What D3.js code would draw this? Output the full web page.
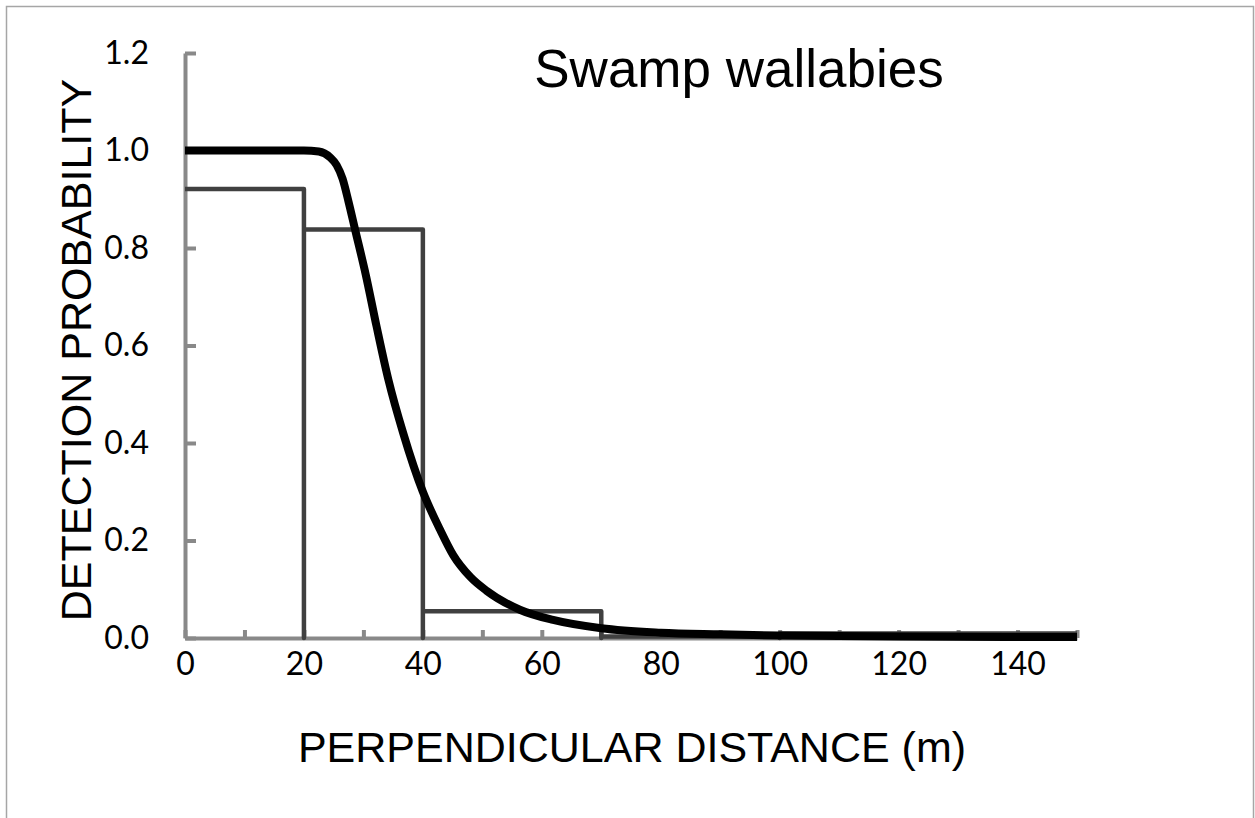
<!DOCTYPE html>
<html>
<head>
<meta charset="utf-8">
<script src="https://cdn.jsdelivr.net/npm/d3@7"></script>
<style>
  body { margin: 0; background: #fff; }
  svg { display: block; }
</style>
</head>
<body>
<div id="chart"></div>
<script>
// histogram bins (edges) and observed heights
var binEdges = [0, 20, 40, 70, 100, 150]
var binHeights = [0.921, 0.838, 0.055, 0.003, 0.009]

// fitted detection curve
var curveX = [0, 10, 20, 22.5, 24.4, 25.5, 26.5, 27.5, 28.6, 30.4, 32.2, 34.2, 36.7, 40, 42.9, 45.1, 48, 50.7, 56.3, 61.9, 70, 80, 90, 100, 120, 150]
var curveY = [1, 1, 1, 0.998, 0.986, 0.970, 0.942, 0.895, 0.838, 0.745, 0.640, 0.530, 0.420, 0.300, 0.222, 0.170, 0.125, 0.097, 0.058, 0.037, 0.020, 0.011, 0.0076, 0.005, 0.003, 0.002]

var xTicks = [0, 10, 20, 30, 40, 50, 60, 70, 80, 90, 100, 110, 120, 130, 140, 150]
var xLabels = [0, 20, 40, 60, 80, 100, 120, 140]
var yTicks = [0, 0.2, 0.4, 0.6, 0.8, 1.0, 1.2]

var dims = {
    width: 1255,
    height: 818,
    left: 185, right: 1077,
    top: 53, bottom: 638
}

var svg = d3.select("#chart")
    .append("svg")
    .attr("width", dims.width)
    .attr("height", dims.height)

// outer frame
svg.append("rect")
    .attr("x", 6.5).attr("y", 6.5)
    .attr("width", 1247).attr("height", 830)
    .attr("fill", "none")
    .attr("stroke", "#a6a6a6")
    .attr("stroke-width", 1.5)

var x = d3.scaleLinear().domain([0, 150]).range([dims.left, dims.right])
var y = d3.scaleLinear().domain([0, 1.2]).range([dims.bottom, dims.top])

var axisColor = "#898989"
var tickFont = "Lato, 'Open Sans', sans-serif"

// y axis, ticks pointing inward
var yAxis = svg.append("g")
    .attr("transform", `translate(${dims.left},0)`)
    .call(d3.axisLeft(y).tickValues(yTicks).tickSizeInner(-11).tickSizeOuter(0).tickPadding(36)
        .tickFormat(d3.format(".1f")))
yAxis.select(".domain").attr("stroke", axisColor).attr("stroke-width", 4)
yAxis.selectAll(".tick line").attr("stroke", axisColor).attr("stroke-width", 4)
yAxis.selectAll("text")
    .attr("font-family", tickFont)
    .attr("font-size", "32px")
    .attr("fill", "#000")

// x axis minor ticks
var xAxis = svg.append("g")
    .attr("transform", `translate(0,${dims.bottom})`)
    .call(d3.axisBottom(x).tickValues(xTicks).tickSizeInner(-8).tickSizeOuter(0).tickFormat(""))
xAxis.select(".domain").attr("stroke", axisColor).attr("stroke-width", 4)
xAxis.selectAll(".tick line").attr("stroke", axisColor).attr("stroke-width", 4)

// x labels
var xLab = svg.append("g")
    .attr("transform", `translate(0,${dims.bottom})`)
    .call(d3.axisBottom(x).tickValues(xLabels).tickSize(0).tickPadding(14))
xLab.select(".domain").remove()
xLab.selectAll("text")
    .attr("font-family", tickFont)
    .attr("font-size", "32px")
    .attr("fill", "#000")

// histogram as stepped outline
var histPts = [[binEdges[0], binHeights[0]]]
binHeights.forEach((h, i) => {
    histPts.push([binEdges[i], h])
    histPts.push([binEdges[i + 1], h])
    if (i < binHeights.length - 1) histPts.push([binEdges[i + 1], 0])
})
svg.append("path")
    .datum(histPts)
    .attr("fill", "none")
    .attr("stroke", "#404040")
    .attr("stroke-width", 4.5)
    .attr("stroke-linejoin", "round")
    .attr("d", d3.line().x(d => x(d[0])).y(d => y(d[1])))

// detection function
var curveData = curveX.map((v, i) => ({ x: v, y: curveY[i] }))
svg.append("path")
    .datum(curveData)
    .attr("fill", "none")
    .attr("stroke", "#000")
    .attr("stroke-width", 8)
    .attr("d", d3.line().curve(d3.curveMonotoneX).x(d => x(d.x)).y(d => y(d.y)))

// titles
svg.append("text")
    .attr("x", 739).attr("y", 87)
    .attr("text-anchor", "middle")
    .attr("font-family", "'Liberation Sans', Arial, sans-serif")
    .attr("font-size", "53px")
    .text("Swamp wallabies")

svg.append("text")
    .attr("x", 632).attr("y", 762)
    .attr("text-anchor", "middle")
    .attr("font-family", "'Liberation Sans', Arial, sans-serif")
    .attr("font-size", "43px")
    .text("PERPENDICULAR DISTANCE (m)")

svg.append("text")
    .attr("transform", "translate(91,350) rotate(-90)")
    .attr("text-anchor", "middle")
    .attr("font-family", "'Liberation Sans', Arial, sans-serif")
    .attr("font-size", "43px")
    .text("DETECTION PROBABILITY")
</script>
</body>
</html>
